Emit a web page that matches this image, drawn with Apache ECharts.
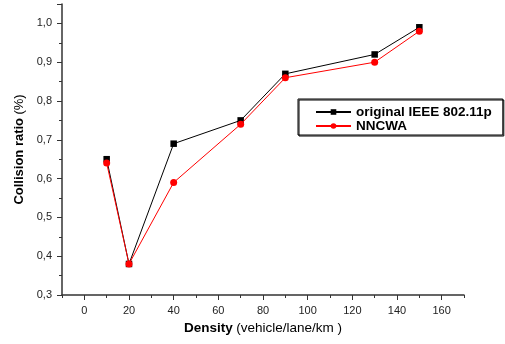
<!DOCTYPE html>
<html><head><meta charset="utf-8">
<script src="https://cdn.jsdelivr.net/npm/echarts@6/dist/echarts.min.js"></script>
<style>html,body{margin:0;padding:0;background:#fff}#c{width:505px;height:344px}</style>
</head><body><div id="c"></div>
<script>
const density = [10, 20, 40, 70, 90, 130, 150];
const ieee = [0.65, 0.38, 0.69, 0.75, 0.87, 0.92, 0.99];
const nncwa = [0.64, 0.38, 0.59, 0.74, 0.86, 0.90, 0.98];
const xTickLabels = [0, 20, 40, 60, 80, 100, 120, 140, 160];
const seriesNames = ['original IEEE 802.11p', 'NNCWA'];

const chart = echarts.init(document.getElementById('c'), null, {renderer: 'canvas'});
const font = 'Liberation Sans, Arial, sans-serif';
const axisColor = '#333';
chart.setOption({
  animation: false,
  backgroundColor: '#fff',
  grid: {left: 62, right: 41, top: 4, bottom: 49},
  legend: {
    orient: 'vertical',
    left: 298, top: 99,
    padding: [6, 11, 2, 17],
    itemGap: 0,
    itemWidth: 35, itemHeight: 7,
    borderColor: '#000', borderWidth: 1,
    shadowColor: '#000', shadowOffsetX: 1, shadowOffsetY: 1,
    textStyle: {fontFamily: font, fontSize: 13.5, lineHeight: 14, fontWeight: 'bold', color: '#000'},
    data: seriesNames
  },
  xAxis: [{
    type: 'value', min: -10, max: 170,
    name: '{b|Density} {n|(vehicle/lane/km )}',
    nameLocation: 'middle', nameGap: 20,
    nameTextStyle: {rich: {b: {fontFamily: font, fontSize: 13.5, fontWeight: 'bold', color: '#000'}, n: {fontFamily: font, fontSize: 13.5, color: '#000'}}},
    axisLine: {show: true, onZero: false, lineStyle: {color: axisColor, width: 1.5}},
    axisTick: {show: true, length: 5, inside: false, customValues: xTickLabels, lineStyle: {color: axisColor}},
    axisLabel: {customValues: xTickLabels, fontFamily: font, fontSize: 11, color: '#222', margin: 10},
    splitLine: {show: false}
  }, {
    type: 'value', min: -10, max: 170, interval: 10, position: 'bottom',
    axisLine: {show: false},
    axisTick: {show: true, length: 3, lineStyle: {color: axisColor}},
    axisLabel: {show: false},
    splitLine: {show: false}
  }],
  yAxis: {
    type: 'value', min: 0.3, max: 1.05, interval: 0.1,
    name: '{b|Collision ratio} {n|(%)}',
    nameLocation: 'middle', nameGap: 35, nameRotate: 90,
    nameTextStyle: {rich: {b: {fontFamily: font, fontSize: 13, fontWeight: 'bold', color: '#000'}, n: {fontFamily: font, fontSize: 13, color: '#000'}}},
    axisLine: {show: true, onZero: false, lineStyle: {color: axisColor, width: 1.5}},
    axisTick: {show: true, length: 5, lineStyle: {color: axisColor}},
    minorTick: {show: true, splitNumber: 2, length: 3, lineStyle: {color: axisColor}},
    axisLabel: {fontFamily: font, fontSize: 11, color: '#222', margin: 10, showMaxLabel: false,
      formatter: v => v.toFixed(1).replace('.', ',')},
    splitLine: {show: false}
  },
  series: [{
    name: seriesNames[0], type: 'line',
    data: density.map((d, i) => [d, ieee[i]]),
    symbol: 'rect', symbolSize: 6.5,
    itemStyle: {color: '#000'},
    lineStyle: {color: '#000', width: 1},
    z: 3
  }, {
    name: seriesNames[1], type: 'line',
    data: density.map((d, i) => [d, nncwa[i]]),
    symbol: 'circle', symbolSize: 7,
    itemStyle: {color: '#ff0000'},
    lineStyle: {color: '#ff0000', width: 1},
    z: 4
  }]
});
</script></body></html>
